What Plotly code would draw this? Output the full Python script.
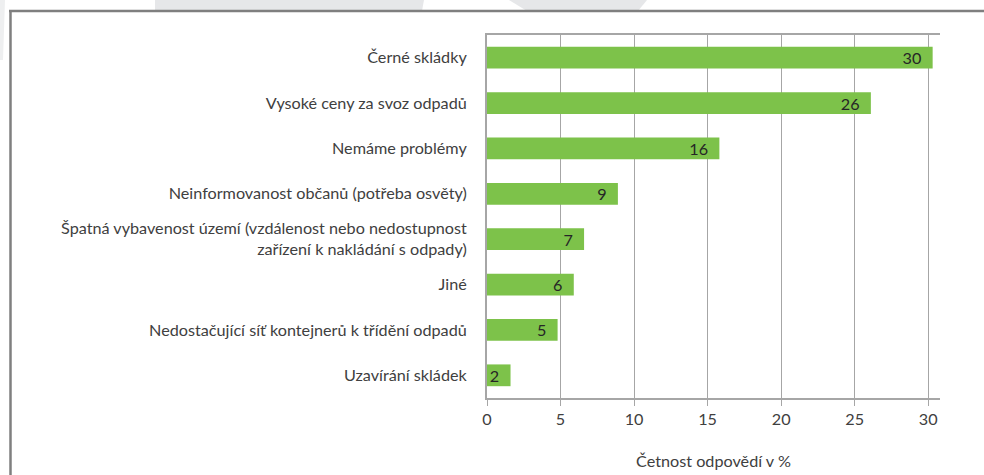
import plotly.graph_objects as go

# Survey answers: main waste-management problems in the municipality
categories = [
    "Černé skládky",
    "Vysoké ceny za svoz odpadů",
    "Nemáme problémy",
    "Neinformovanost občanů (potřeba osvěty)",
    "Špatná vybavenost území (vzdálenost nebo nedostupnost<br>zařízení k nakládání s odpady)",
    "Jiné",
    "Nedostačující síť kontejnerů k třídění odpadů",
    "Uzavírání skládek",
]
shares = [30.3, 26.1, 15.8, 8.9, 6.6, 5.9, 4.8, 1.6]
x_ticks = [0, 5, 10, 15, 20, 25, 30]
x_title = "Četnost odpovědí v %"

W, H = 984, 475
M_L, M_R, M_T, M_B = 487, 44, 35, 77
PW, PH = W - M_L - M_R, H - M_T - M_B


def px(x):
    return (x - M_L) / PW


def py(y):
    return (H - M_B - y) / PH


def poly(points):
    return "M " + " L ".join(f"{px(a):.5f},{py(b):.5f}" for a, b in points) + " Z"


FONT = "Lato, 'Open Sans', sans-serif"
FS = 16.2
GRID = "#a6a6a6"

fig = go.Figure(
    go.Bar(
        x=shares,
        y=categories,
        orientation="h",
        marker=dict(color="#7dc24a", line=dict(width=0)),
        texttemplate="%{x:.0f}\u00a0\u00a0",
        textposition="inside",
        insidetextanchor="end",
        textangle=0,
        textfont=dict(family=FONT, size=FS, color="#262626"),
        constraintext="none",
        hoverinfo="x+y",
    )
)

shapes = [
    # faint decorative background forms above the frame
    dict(type="path", xref="paper", yref="paper", path=poly([(155, 0), (424, 0), (422, 11), (155, 11)]),
         fillcolor="#e6e7e9", line=dict(width=0), layer="below"),
    dict(type="path", xref="paper", yref="paper", path=poly([(509, 0), (647, 0), (638, 11), (527, 11)]),
         fillcolor="#e6e7e9", line=dict(width=0), layer="below"),
    dict(type="path", xref="paper", yref="paper", path=poly([(0, 0), (5, 0), (3, 60), (0, 60)]),
         fillcolor="#eeeff0", line=dict(width=0), layer="below"),
    # chart frame
    dict(type="line", xref="paper", yref="paper", x0=px(9), x1=px(W + 5), y0=py(11), y1=py(11),
         line=dict(color="#7f7f7f", width=2.5)),
    dict(type="line", xref="paper", yref="paper", x0=px(10.5), x1=px(10.5), y0=py(10), y1=py(H + 5),
         line=dict(color="#7f7f7f", width=2.5)),
]

fig.update_layout(
    width=W,
    height=H,
    margin=dict(l=M_L, r=M_R, t=M_T, b=M_B, autoexpand=False),
    paper_bgcolor="white",
    plot_bgcolor="white",
    bargap=0.52,
    showlegend=False,
    font=dict(family=FONT, size=FS, color="#404040"),
    shapes=shapes,
    xaxis=dict(
        range=[0, 30.8],
        tickvals=x_ticks,
        ticktext=[str(v) for v in x_ticks],
        showgrid=True,
        gridcolor=GRID,
        gridwidth=1,
        zeroline=False,
        showline=True,
        linecolor=GRID,
        linewidth=2,
        mirror=True,
        ticks="outside",
        ticklen=6,
        tickcolor=GRID,
        tickfont=dict(family=FONT, size=FS, color="#404040"),
        title=dict(text=x_title, font=dict(family=FONT, size=FS, color="#404040"), standoff=28),
        fixedrange=True,
    ),
    yaxis=dict(
        categoryorder="array",
        categoryarray=categories,
        autorange="reversed",
        showgrid=False,
        zeroline=False,
        showline=True,
        linecolor=GRID,
        linewidth=2,
        ticks="",
        ticklabelstandoff=15,
        tickfont=dict(family=FONT, size=FS, color="#404040"),
        fixedrange=True,
    ),
)

fig.write_html("out.html")
